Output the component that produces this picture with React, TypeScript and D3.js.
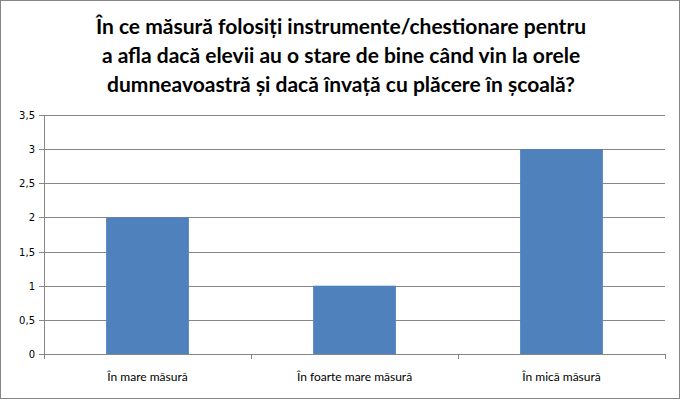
import React from "react";
import * as d3 from "d3";

const categories = ["În mare măsură", "În foarte mare măsură", "În mică măsură"];
const values = [2, 1, 3];
const yTicks = [0, 0.5, 1, 1.5, 2, 2.5, 3, 3.5];
const titleLines = [
  "În ce măsură folosiți instrumente/chestionare pentru",
  "a afla dacă elevii au o stare de bine când vin la orele",
  "dumneavoastră și dacă învață cu plăcere în școală?",
];

export default function App() {
  const W = 681, H = 400;
  const left = 44, right = 665, top = 115, bottom = 354;
  const x = d3.scaleBand<string>().domain(categories).range([left, right]).paddingInner(0.6).paddingOuter(0.3);
  const xb = d3.scaleBand<string>().domain(categories).range([left, right]);
  const y = d3.scaleLinear().domain([0, 3.5]).range([bottom, top]);
  const fmt = (v: number) => String(v).replace(".", ",");
  const grid = "#868686";
  return (
    <svg width={W} height={H} style={{ position: "absolute", left: 0, top: 0 }}>
      <rect x={0.5} y={0.5} width={W - 2} height={H - 2} fill="#fff" stroke="#868686" />
      {titleLines.map((t, i) => (
        <text key={i} x={341} y={34 + i * 29} textAnchor="middle" fontFamily="Lato, 'Open Sans', sans-serif" fontWeight="bold" fontSize={21} fill="#000">{t}</text>
      ))}
      {yTicks.map((t) => (
        <g key={t}>
          <line x1={left - 5} x2={right} y1={Math.round(y(t)) + 0.5} y2={Math.round(y(t)) + 0.5} stroke={grid} />
          <text x={35} y={y(t) + 4} textAnchor="end" fontFamily="'DejaVu Sans', sans-serif" fontSize={10} fill="#000">{fmt(t)}</text>
        </g>
      ))}
      {categories.map((c, i) => (
        <rect key={c} x={x(c)} y={y(values[i])} width={x.bandwidth()} height={bottom - y(values[i])} fill="#4F81BD" />
      ))}
      <line x1={left + 0.5} x2={left + 0.5} y1={top} y2={bottom} stroke={grid} />
      <line x1={left} x2={right} y1={bottom + 0.5} y2={bottom + 0.5} stroke={grid} />
      {[...categories.map((c) => xb(c) as number), right].map((v, i) => (
        <line key={i} x1={Math.round(v) + 0.5} x2={Math.round(v) + 0.5} y1={bottom} y2={bottom + 5} stroke={grid} />
      ))}
      {categories.map((c) => (
        <text key={c} x={(xb(c) as number) + xb.bandwidth() / 2} y={381} textAnchor="middle" fontFamily="Lato, sans-serif" fontSize={12} fill="#000">{c}</text>
      ))}
    </svg>
  );
}
